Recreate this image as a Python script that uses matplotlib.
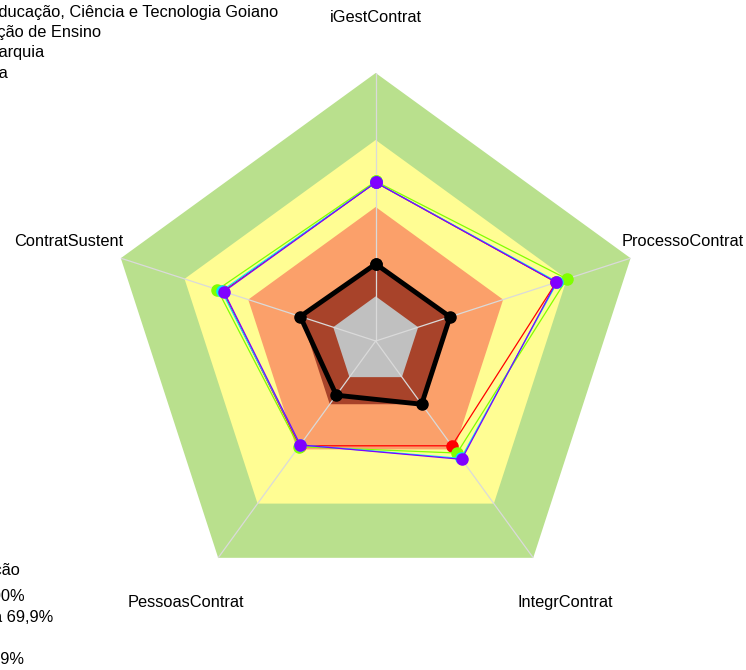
import numpy as np
import matplotlib
matplotlib.use("Agg")
import matplotlib.pyplot as plt

plt.rcParams['font.family'] = ['Liberation Sans', 'DejaVu Sans']

# axes, clockwise from the top
categories = ["iGestContrat", "ProcessoContrat", "IntegrContrat", "PessoasContrat", "ContratSustent"]

# classification bands (upper limit of each band), axis starts at -0.2
band_limits = [1.0, 0.70, 0.40, 0.15, 0.0]
band_colors = ["#B9E08D", "#FFFD93", "#FBA06A", "#A8432A", "#C0C0C0"]

# series
s_red = [0.51, 0.65, 0.38, 0.38, 0.52]
s_lime = [0.515, 0.70, 0.42, 0.385, 0.545]
s_cyan = [0.51, 0.655, 0.45, 0.375, 0.525]
s_purple = [0.51, 0.65, 0.455, 0.375, 0.515]
s_black = [0.145, 0.15, 0.15, 0.10, 0.155]

legend_top = ["Instituto Federal de Educação, Ciência e Tecnologia Goiano",
              "Instituição de Ensino",
              "Autarquia",
              "Média"]
legend_bottom = ["Classificação",
                 "Aprimorado 70 a 100%",
                 "Intermediário 40 a 69,9%",
                 "",
                 "Iniciando 15 a 39,9%"]

W, H = 746, 670
fig = plt.figure(figsize=(W / 100, H / 100), dpi=100)
cx, cy, R = 375.7, 341.0, 268.0
ax = fig.add_axes([(cx - R) / W, (H - cy - R) / H, 2 * R / W, 2 * R / H], projection='polar')
ax.set_theta_offset(np.pi / 2)
ax.set_theta_direction(-1)
rmin = -0.2
ax.set_ylim(rmin, 1.0)

n = len(categories)
theta = np.linspace(0, 2 * np.pi, n, endpoint=False)
theta_c = np.append(theta, theta[0])


def closed(vals):
    return np.append(vals, vals[0])


for lim, col in zip(band_limits, band_colors):
    ax.fill(theta_c, [lim] * (n + 1), color=col, lw=0, zorder=1)

for t in theta:
    ax.plot([t, t], [rmin, 1.0], color="#DADADA", lw=0.9, zorder=2)

for vals, col in [(s_red, "#FF0000"), (s_lime, "#80FF00"), (s_cyan, "#00E5FF"), (s_purple, "#8000FF")]:
    ax.plot(theta_c, closed(vals), color=col, lw=0.9, marker='o', ms=8, mec=col, mfc=col, zorder=3)

ax.plot(theta_c, closed(s_black), color="black", lw=3.5, marker='o', ms=8, zorder=4)

ax.set_xticks([])
ax.set_yticks([])
ax.grid(False)
ax.spines['polar'].set_visible(False)
ax.set_facecolor('none')

lab_r = rmin + (1.0 - rmin) * 323 / R
for t, lab in zip(theta, categories):
    ax.text(t, lab_r, lab, ha='center', va='center', fontsize=11.8, clip_on=False)

top_ends = [278, 101, 45, 8]
top_ys = [12, 32, 53, 74]
for txt, xe, yy in zip(legend_top, top_ends, top_ys):
    fig.text(xe / W, 1 - yy / H, txt, ha='right', va='center', fontsize=11.8)

bot_ends = [20, 25, 53, 0, 24]
bot_ys = [571, 597, 618, 640, 659]
for txt, xe, yy in zip(legend_bottom, bot_ends, bot_ys):
    if txt:
        fig.text(xe / W, 1 - yy / H, txt, ha='right', va='center', fontsize=11.8)

fig.savefig("out.png", dpi=100)
